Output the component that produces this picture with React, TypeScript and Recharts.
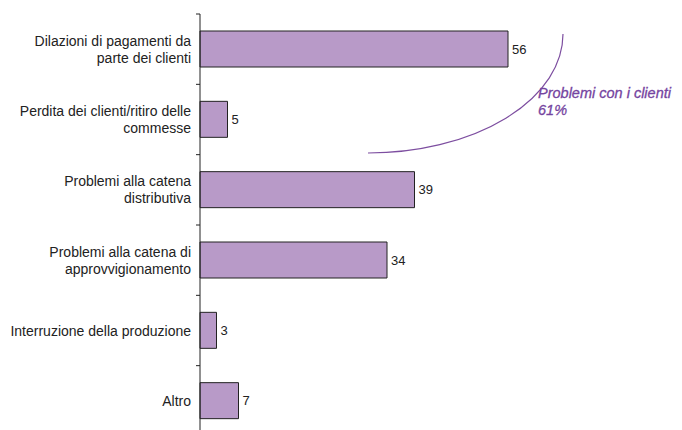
import React from "react";
import { BarChart, Bar, XAxis, YAxis, LabelList } from "recharts";

// Reasons reported
const categories = [
  "Dilazioni di pagamenti da\nparte dei clienti",
  "Perdita dei clienti/ritiro delle\ncommesse",
  "Problemi alla catena\ndistributiva",
  "Problemi alla catena di\napprovvigionamento",
  "Interruzione della produzione",
  "Altro",
];
const values = [56, 5, 39, 34, 3, 7];
const annotationLines = ["Problemi con i clienti", "61%"];

const data = categories.map((name, i) => ({ name, value: values[i] }));

const WIDTH = 682;
const HEIGHT = 440;
const MARGIN = { top: 14, right: 42, left: 0, bottom: 4 };
const AXIS_W = 200;
const FONT = '"Liberation Sans", Arial, Helvetica, sans-serif';
const band = (HEIGHT - MARGIN.top - MARGIN.bottom) / categories.length;

const CategoryTick = (props: any) => {
  const { y, payload } = props;
  const lines = String(payload.value).split("\n");
  const lh = 17;
  const start = -((lines.length - 1) * lh) / 2;
  return (
    <g>
      <line x1={AXIS_W - 4} x2={AXIS_W} y1={y - band / 2} y2={y - band / 2} stroke="#222" strokeWidth={1} />
      <text x={AXIS_W - 9} y={y} textAnchor="end" fontSize={14} fill="#222" fontFamily={FONT}>
        {lines.map((l, i) => (
          <tspan key={i} x={AXIS_W - 9} dy={i === 0 ? start + 5 : lh}>
            {l}
          </tspan>
        ))}
      </text>
    </g>
  );
};

export default function App() {
  return (
    <div style={{ position: "absolute", left: 0, top: 0, width: WIDTH, height: HEIGHT, background: "#fff" }}>
      <BarChart width={WIDTH} height={HEIGHT} data={data} layout="vertical" margin={MARGIN}>
        <XAxis type="number" domain={[0, 80]} hide />
        <YAxis
          type="category"
          dataKey="name"
          width={AXIS_W}
          axisLine={{ stroke: "#222" }}
          tickLine={false}
          tick={<CategoryTick />}
          interval={0}
        />
        <Bar dataKey="value" fill="#b89ac8" stroke="#222" strokeWidth={1} barSize={36} isAnimationActive={false}>
          <LabelList dataKey="value" position="right" offset={4} fontSize={13} fill="#222" fontFamily={FONT} />
        </Bar>
      </BarChart>
      <svg width={WIDTH} height={HEIGHT} style={{ position: "absolute", left: 0, top: 0, pointerEvents: "none" }}>
        <path d="M563,34 A195,119 0 0 1 368,153" fill="none" stroke="#7d4ea0" strokeWidth={1.2} />
        <text x={538} y={98} fontSize={14.5} fontStyle="italic" fill="#7544a0" stroke="#7544a0" strokeWidth={0.3} fontFamily={FONT}>
          {annotationLines[0]}
        </text>
        <text x={538} y={115} fontSize={14.5} fontStyle="italic" fill="#7544a0" stroke="#7544a0" strokeWidth={0.3} fontFamily={FONT}>
          {annotationLines[1]}
        </text>
      </svg>
    </div>
  );
}
